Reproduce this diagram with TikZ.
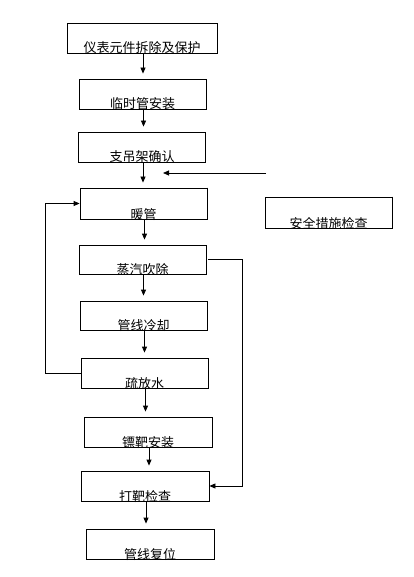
\documentclass[tikz,border=0pt]{standalone}
\usepackage{fontspec}
\setmainfont{Noto Sans CJK SC}
\usetikzlibrary{arrows.meta,positioning}

\tikzset{
    stepbox/.style={draw, line width=0.8pt, minimum width=127pt, inner xsep=0pt, inner ysep=0pt,
        text height=30pt, text depth=0pt, font=\fontsize{13pt}{13pt}\selectfont},
    flow/.style={line width=0.8pt, -{Triangle[length=6pt,width=5pt]}}
}

\begin{document}
\begin{tikzpicture}[x=1pt, y=-1pt]
    \useasboundingbox (0,0) rectangle (413,577);

    % main column
    \node[stepbox, minimum width=150pt] (chai) at (142,38) {仪表元件拆除及保护};
    \node[stepbox] (linshi) at (142.5,94) {临时管安装};
    \node[stepbox] (zhidiao) at (142,147) {支吊架确认};
    \node[stepbox, text height=31pt] (nuan) at (143.5,203.5) {暖管};
    \node[stepbox, text height=29pt] (chuichu) at (142.5,259.5) {蒸汽吹除};
    \node[stepbox, text height=29pt] (lengque) at (143.5,315.5) {管线冷却};
    \node[stepbox] (shufang) at (144.5,373) {疏放水};
    \node[stepbox, minimum width=128pt] (babian) at (148,432) {镖靶安装};
    \node[stepbox, minimum width=128pt] (daba) at (145,486) {打靶检查};
    \node[stepbox, minimum width=128pt] (fuwei) at (150,544) {管线复位};

    % safety check on the right
    \node[stepbox, text height=31pt] (anquan) at (328.5,212.5) {安全措施检查};

    % heavier right and bottom edges
    \draw[line width=1.6pt] (nuan.north east) |- (nuan.south west);
    \draw[line width=1.6pt] (anquan.north east) |- (anquan.south west);

    % arrows down the column
    \foreach \a/\b in {chai/linshi, linshi/zhidiao, zhidiao/nuan, nuan/chuichu, chuichu/lengque,
                       lengque/shufang, shufang/babian, babian/daba, daba/fuwei}
        \draw[flow, shorten >=5pt] ([xshift=1pt]\a.south) -- ([xshift=1pt]\a.south |- \b.north);

    % side line from the safety check
    \coordinate (sIn) at (266,173);
    \draw[flow] (sIn) -- ([xshift=21pt]zhidiao.south |- sIn);

    % loop back to warming
    \coordinate (lft) at (45,0);
    \draw[flow] (shufang.west) -| (lft |- nuan.west) -- (nuan.west);

    % bypass to target check
    \coordinate (rgt) at (242,0);
    \draw[flow] ([xshift=2pt]chuichu.east) -| (rgt |- daba.east) -- (daba.east);
\end{tikzpicture}
\end{document}
